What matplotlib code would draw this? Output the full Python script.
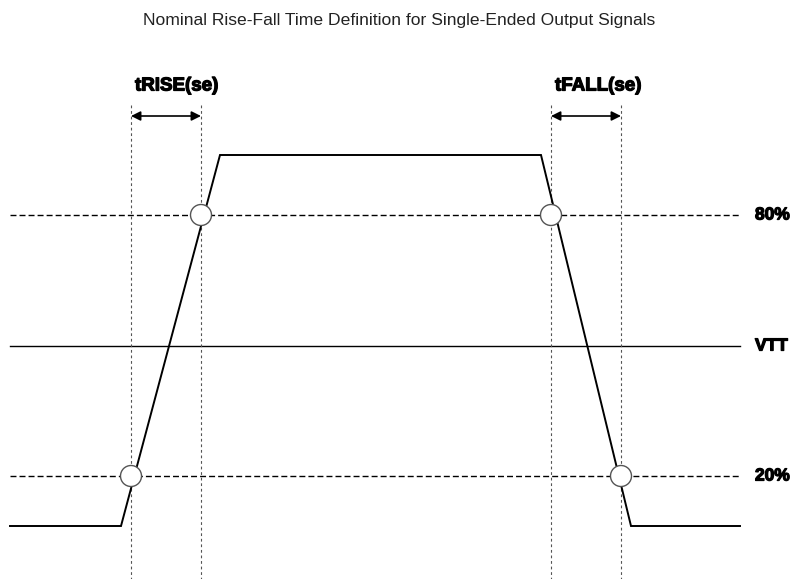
import matplotlib
matplotlib.use("Agg")
import matplotlib.pyplot as plt
import matplotlib.patheffects as pe
from matplotlib.patches import Circle

# ── Data (schematic units, y grows downward) ──────────────
wave_t = [10, 121, 220, 541, 631, 740]
wave_v = [526, 526, 155, 155, 526, 526]

level_names = ["80%", "VTT", "20%"]
level_y     = [215, 346, 476]
level_style = ["--", "-", "--"]

marker_x = [201, 131, 551, 621]
marker_y = [215, 476, 215, 476]

window_labels = ["tRISE(se)", "tFALL(se)"]
window_start  = [131, 551]
window_end    = [201, 621]

TITLE = "Nominal Rise-Fall Time Definition for Single-Ended Output Signals"

heavy = [pe.withStroke(linewidth=0.9, foreground="black")]

# ── Figure ────────────────────────────────────────────────
fig = plt.figure(figsize=(7.98, 5.79), dpi=100)
ax = fig.add_axes([0, 0, 1, 1])
ax.set_xlim(0, 798)
ax.set_ylim(579, 0)
ax.axis("off")

fig.text(0.5, 1 - 20 / 579, TITLE, ha="center", va="center",
         fontsize=12.6, family="Liberation Sans", color="#222222")

# reference levels
for name, y, ls in zip(level_names, level_y, level_style):
    if ls == "--":
        ax.plot([10, 740], [y, y], color="black", lw=1.0,
                linestyle=(0, (4.3, 2.2)))
    else:
        ax.plot([10, 740], [y, y], color="black", lw=1.0)
    ax.text(755, y, name, ha="left", va="center", fontsize=12.5,
            fontweight="bold", family="Liberation Sans",
            path_effects=heavy)

# vertical timing markers
for x0, x1 in zip(window_start, window_end):
    for x in (x0, x1):
        ax.plot([x, x], [105, 579], color="#555555", lw=0.8,
                linestyle=(0, (2.5, 2.5)))

# waveform
ax.plot(wave_t, wave_v, color="black", lw=1.4, solid_joinstyle="miter")

# crossing circles
for x, y in zip(marker_x, marker_y):
    ax.add_patch(Circle((x, y), 10.5, facecolor="white",
                        edgecolor="#555555", lw=1.0, zorder=5))

# arrows + labels
for lab, x0, x1 in zip(window_labels, window_start, window_end):
    ax.annotate("", xy=(x1, 116), xytext=(x0, 116),
                arrowprops=dict(arrowstyle="<|-|>", color="black",
                                lw=1.2, mutation_scale=14,
                                shrinkA=0, shrinkB=0))
    ax.text(x0 + 4, 86, lab, ha="left", va="center",
            fontsize=13.5, fontweight="bold", family="Liberation Sans",
            path_effects=heavy)

plt.savefig("out.png", dpi=100)
plt.close()
